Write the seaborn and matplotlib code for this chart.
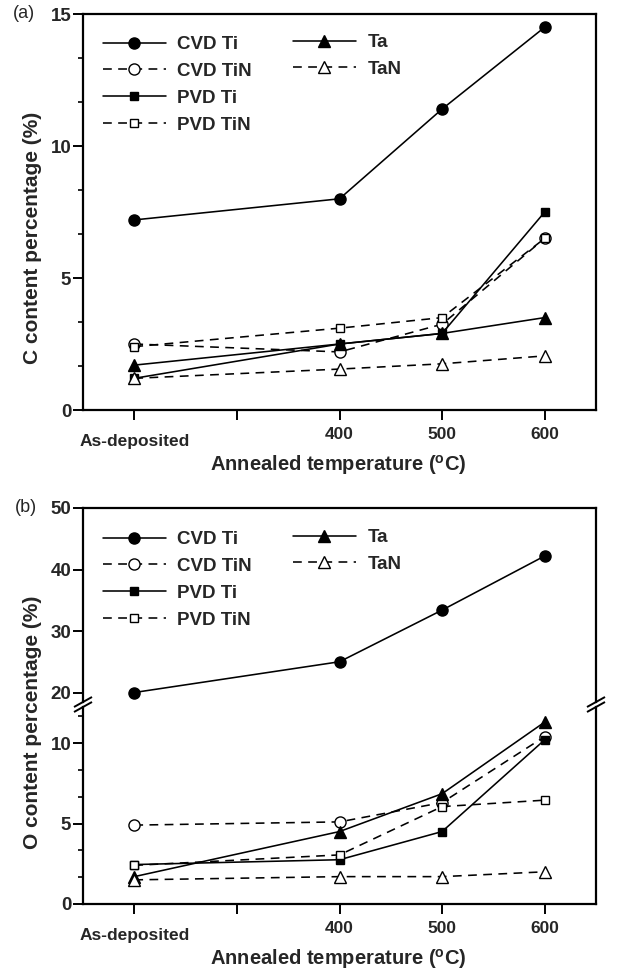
import numpy as np
import pandas as pd
import matplotlib
matplotlib.use('Agg')
import matplotlib.pyplot as plt
import seaborn as sns
from matplotlib.lines import Line2D
from matplotlib.ticker import MultipleLocator, NullLocator

# ---------------- data ----------------
temps = [200, 400, 500, 600]            # 200 = "As-deposited" position
xtick_pos = [200, 300, 400, 500, 600]
xtick_labels = ['', '', '400', '500', '600']
asdep_label = 'As-deposited'
series = ['CVD Ti', 'CVD TiN', 'PVD Ti', 'PVD TiN', 'Ta', 'TaN']

# C content (%)
c_cvd_ti = [7.2, 8.0, 11.4, 14.5]
c_cvd_tin = [2.5, 2.2, 3.25, 6.5]
c_pvd_ti = [1.2, 2.5, 2.9, 7.5]
c_pvd_tin = [2.4, 3.1, 3.5, 6.5]
c_ta = [1.7, 2.5, 2.9, 3.5]
c_tan = [1.2, 1.55, 1.75, 2.05]

# O content (%)
o_cvd_ti = [20.0, 25.0, 33.4, 42.2]
o_cvd_tin = [4.9, 5.1, 6.3, 10.4]
o_pvd_ti = [2.45, 2.75, 4.5, 10.2]
o_pvd_tin = [2.4, 3.05, 6.05, 6.45]
o_ta = [1.7, 4.5, 6.85, 11.3]
o_tan = [1.5, 1.7, 1.7, 2.0]

# ---------------- style ----------------
sns.set_style('ticks')
plt.rcParams['font.family'] = ['Liberation Sans', 'DejaVu Sans']
plt.rcParams['font.weight'] = 'bold'
plt.rcParams['mathtext.fontset'] = 'custom'
plt.rcParams['mathtext.rm'] = 'Liberation Sans:bold'
plt.rcParams['mathtext.bf'] = 'Liberation Sans:bold'
plt.rcParams['mathtext.it'] = 'Liberation Sans:bold'

DASH = (0, (5.5, 4.0))
styles = {
    'CVD Ti':  dict(marker='o', filled=True,  ls='-',  ms=8.0),
    'CVD TiN': dict(marker='o', filled=False, ls=DASH, ms=8.0),
    'PVD Ti':  dict(marker='s', filled=True,  ls='-',  ms=6.4),
    'PVD TiN': dict(marker='s', filled=False, ls=DASH, ms=6.4),
    'Ta':      dict(marker='^', filled=True,  ls='-',  ms=8.2),
    'TaN':     dict(marker='^', filled=False, ls=DASH, ms=8.2),
}

W, H = 629, 975
fig = plt.figure(figsize=(W / 100, H / 100), dpi=100)


def rect(l, t, r, b):
    return [l / W, 1 - b / H, (r - l) / W, (b - t) / H]


L, R = 83, 596
ax_c = fig.add_axes(rect(L, 14, R, 410))
ax_up = fig.add_axes(rect(L, 508, R, 702))
ax_lo = fig.add_axes(rect(L, 707, R, 904))

SPINE = 1.6


def draw_series(ax, name, vals):
    st = styles[name]
    df = pd.DataFrame({'T': temps, 'v': vals})
    sns.lineplot(data=df, x='T', y='v', ax=ax, color='black',
                 marker=st['marker'], markersize=st['ms'],
                 markerfacecolor='black' if st['filled'] else 'white',
                 markeredgecolor='black', markeredgewidth=1.0,
                 linestyle=st['ls'], linewidth=1.15, legend=False)
    return ax.lines[-1]


def base_axis(ax):
    ax.set_xlim(150, 650)
    ax.set_xticks(xtick_pos)
    ax.set_xlabel('')
    ax.set_ylabel('')
    for s in ax.spines.values():
        s.set_linewidth(SPINE)
        s.set_color('black')
        s.set_visible(True)
    ax.tick_params(axis='both', which='major', direction='out', length=7,
                   width=1.4, color='black', labelsize=13.5, pad=1.5)
    ax.tick_params(axis='y', which='minor', direction='out', length=3.8,
                   width=1.2, color='black')
    ax.tick_params(axis='x', which='minor', length=0)
    ax.set_facecolor('white')


def x_labels(ax):
    ax.set_xticklabels(xtick_labels, fontsize=12.5, fontweight='bold')
    ax.tick_params(axis='x', pad=5)
    ax.annotate(asdep_label, xy=(200, 0), xycoords=('data', 'axes fraction'),
                xytext=(0, -17), textcoords='offset points', ha='center',
                va='top', fontsize=12.5, fontweight='bold')


# ---------------- panel (a) ----------------
handles = []
for name, vals in zip(series, [c_cvd_ti, c_cvd_tin, c_pvd_ti, c_pvd_tin, c_ta, c_tan]):
    handles.append(draw_series(ax_c, name, vals))
base_axis(ax_c)
ax_c.set_ylim(0, 15)
ax_c.set_yticks([0, 5, 10, 15])
ax_c.yaxis.set_minor_locator(MultipleLocator(5 / 3))
x_labels(ax_c)

# ---------------- panel (b) ----------------
draw_series(ax_up, 'CVD Ti', o_cvd_ti)
for name, vals in zip(series[1:], [o_cvd_tin, o_pvd_ti, o_pvd_tin, o_ta, o_tan]):
    draw_series(ax_lo, name, vals)

base_axis(ax_up)
ax_up.set_ylim(50 - (702 - 508) / 6.15, 50)
ax_up.set_yticks([20, 30, 40, 50])
ax_up.yaxis.set_minor_locator(NullLocator())
ax_up.spines['bottom'].set_visible(False)
ax_up.tick_params(axis='x', which='both', length=0, labelbottom=False)

base_axis(ax_lo)
ax_lo.set_ylim(0, (904 - 707) / 16.1)
ax_lo.set_yticks([0, 5, 10])
ax_lo.yaxis.set_minor_locator(MultipleLocator(5 / 3))
ax_lo.spines['top'].set_visible(False)
x_labels(ax_lo)

# break marks
for xp in (L, R):
    for yp in (702, 707):
        fig.add_artist(Line2D([(xp - 9) / W, (xp + 9) / W],
                              [1 - (yp + 5) / H, 1 - (yp - 5) / H],
                              transform=fig.transFigure, color='black',
                              lw=1.4, solid_capstyle='butt'))

# ---------------- legends ----------------
def add_legends(ax, top_px):
    leg_kw = dict(frameon=False, handlelength=3.35,
                  handletextpad=0.62, labelspacing=0.52, borderpad=0,
                  borderaxespad=0, loc='upper left',
                  bbox_transform=fig.transFigure,
                  prop=dict(weight='bold', size=13.5))
    leg1 = ax.legend(handles[:4], series[:4],
                     bbox_to_anchor=(103 / W, 1 - top_px / H), **leg_kw)
    ax.add_artist(leg1)
    leg2 = ax.legend(handles[4:], series[4:],
                     bbox_to_anchor=(293 / W, 1 - (top_px - 2) / H), **leg_kw)
    return leg1, leg2


add_legends(ax_c, 36)
add_legends(ax_up, 531)

# ---------------- texts ----------------
fig.text(13 / W, 1 - 14 / H, '(a)', fontsize=13, fontweight='normal',
         ha='left', va='center')
fig.text(15 / W, 1 - 508 / H, '(b)', fontsize=13, fontweight='normal',
         ha='left', va='center')
fig.text(33 / W, 1 - 238 / H, 'C content percentage (%)', rotation=90,
         ha='center', va='center', fontsize=15, fontweight='bold')
fig.text(33 / W, 1 - 722 / H, 'O content percentage (%)', rotation=90,
         ha='center', va='center', fontsize=15, fontweight='bold')
fig.text(338 / W, 1 - 465 / H, 'Annealed temperature ($^{\\mathrm{o}}$C)',
         ha='center', va='center', fontsize=14.5, fontweight='bold')
fig.text(338 / W, 1 - 959 / H, 'Annealed temperature ($^{\\mathrm{o}}$C)',
         ha='center', va='center', fontsize=14.5, fontweight='bold')

fig.savefig('out.png', dpi=100, facecolor='white')
